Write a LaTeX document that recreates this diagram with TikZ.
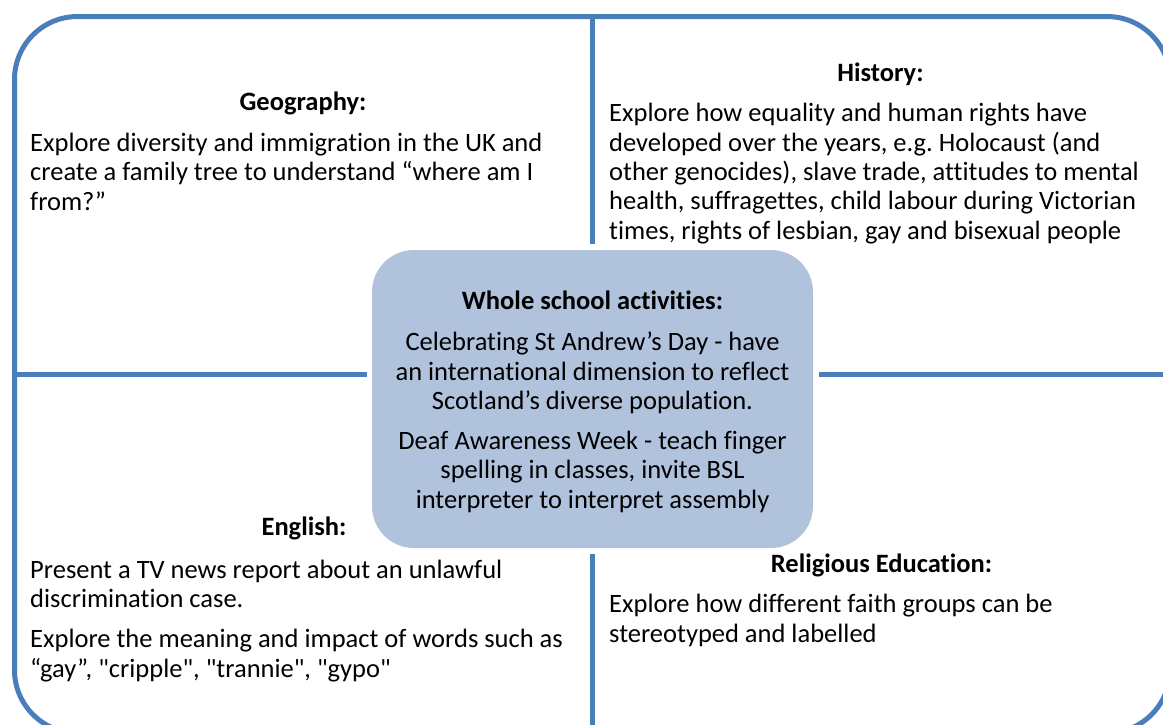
\documentclass[tikz,border=0pt]{standalone}
\usepackage{fontspec}
\setmainfont{Carlito}[Ligatures={TeXOff,CommonOff}]
\usepackage{tikz}
\usetikzlibrary{
    positioning,
    calc
}
\usepackage{xcolor}
\frenchspacing
\definecolor{framblue}{RGB}{74,126,187}
\definecolor{boxblue}{RGB}{176,194,220}
\tikzstyle{frame} = [
    rectangle,
    rounded corners=63pt,
    draw=framblue,
    line width=5pt,
    minimum width=1155.5pt,
    minimum height=716.5pt
]
\tikzstyle{divider} = [
    draw=framblue,
    line width=5pt
]
\tikzstyle{centrebox} = [
    rectangle,
    rounded corners=42pt,
    fill=boxblue,
    minimum width=441pt,
    minimum height=298pt
]
\tikzstyle{heading} = [
    anchor=base,
    inner sep=0pt,
    font=\fontsize{26.5}{29.3}\selectfont\bfseries
]
\tikzstyle{panelbody} = [
    anchor=base west,
    inner sep=0pt,
    align=left,
    font=\fontsize{26.5}{29.3}\selectfont
]
\tikzstyle{centrebody} = [
    anchor=base,
    inner sep=0pt,
    align=center,
    font=\fontsize{26.5}{29.3}\selectfont
]

\begin{document}
\begin{tikzpicture}[x=1pt, y=-1pt]
        \useasboundingbox (0,0) rectangle (1163,724);
        \clip (0,0) rectangle (1163,724);

        % Outer frame and centre box
        \node[frame] (frame) at (592.25,374.75) {};
        \node[centrebox] (whole) at (592.5,399) {};

        % Dividers - stop short of the centre box
        \draw[divider] (frame.north -| whole.north) -- ([yshift=6pt]whole.north);
        \draw[divider] ([yshift=-6pt]whole.south) -- (frame.south -| whole.south);
        \draw[divider] (frame.west |- 0,374.5) coordinate (dl) -- ([xshift=-5pt]whole.west |- dl);
        \draw[divider] ([xshift=6pt]whole.east |- dl) -- (frame.east |- dl);

        % Geography (top left) - body placed by its last line
        \node[heading] (geohead) at (303,110) {Geography:};
        \node[panelbody] (geotext) at (30,210) {
            Explore diversity and immigration in the UK and\\
            create a family tree to understand “where am I\\
            from?”
        };

        % History (top right)
        \node[heading] (histhead) at (880.5,81) {History:};
        \node[panelbody] (histtext) at (609,239) {
            Explore how equality and human rights have\\
            developed over the years, e.g. Holocaust (and\\
            other genocides), slave trade, attitudes to mental\\
            health, suffragettes, child labour during Victorian\\
            times, rights of lesbian, gay and bisexual people
        };

        % Whole school (centre)
        \node[heading] (wholehead) at (592.5,309) {Whole school activities:};
        \node[centrebody] (wholetext) at (592.5,508) {
            Celebrating St Andrew’s Day - have\\
            an international dimension to reflect\\
            Scotland’s diverse population.\\[10.7pt]
            Deaf Awareness Week - teach finger\\
            spelling in classes, invite BSL\\
            interpreter to interpret assembly
        };

        % English (bottom left)
        \node[heading] (enghead) at (304,535) {English:};
        \node[panelbody] (engtext) at (30,677) {
            Present a TV news report about an unlawful\\
            discrimination case.\\[10.7pt]
            Explore the meaning and impact of words such as\\
            “gay”, "cripple", "trannie", "gypo"
        };

        % Religious Education (bottom right)
        \node[heading] (rehead) at (881.5,572) {Religious Education:};
        \node[panelbody] (retext) at (609,642) {
            Explore how different faith groups can be\\
            stereotyped and labelled
        };
    \end{tikzpicture}
\end{document}
